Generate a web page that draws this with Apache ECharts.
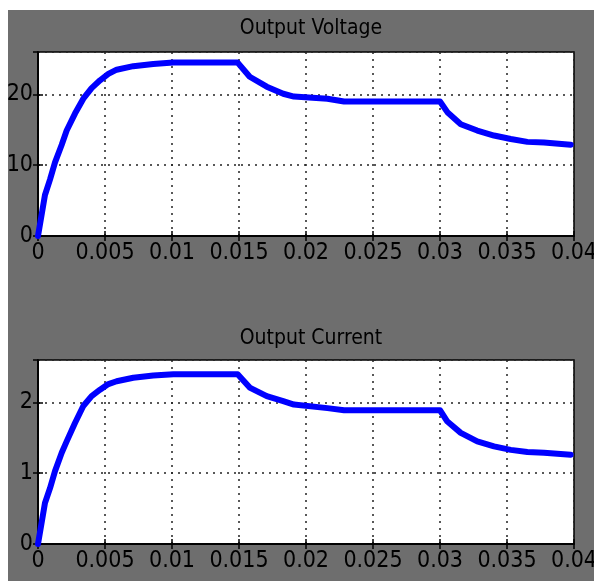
<!DOCTYPE html>
<html>
<head>
<meta charset="utf-8">
<script src="https://cdn.jsdelivr.net/npm/echarts@6/dist/echarts.min.js"></script>
<style>
html,body{margin:0;padding:0;background:#ffffff;}
#bg{position:absolute;left:8px;top:10px;width:586px;height:571px;background:#6e6e6e;}
#chart{position:absolute;left:0;top:0;width:594px;height:581px;}
</style>
</head>
<body>
<div id="bg"></div>
<div id="chart"></div>
<script>
// Time samples (s)
const timeV = [0, 0.00052, 0.0009, 0.00127, 0.00177, 0.00214, 0.00276, 0.00338, 0.0040, 0.00463, 0.00525, 0.00587, 0.00711, 0.0086, 0.0101, 0.0149, 0.0150, 0.0158, 0.01707, 0.0183, 0.0191, 0.0216, 0.02284, 0.0298, 0.0300, 0.03055, 0.03155, 0.03278, 0.03403, 0.03528, 0.03652, 0.03776, 0.03975];
// Output voltage values
const voltage = [0, 5.8, 8.0, 10.4, 12.9, 14.9, 17.3, 19.4, 20.9, 22.0, 22.9, 23.5, 24.0, 24.3, 24.5, 24.5, 24.5, 22.5, 21.1, 20.1, 19.7, 19.4, 19.0, 19.0, 19.0, 17.5, 15.8, 14.9, 14.2, 13.7, 13.3, 13.2, 12.9];
// Output current values
const timeI = timeV;
const current = [0, 0.58, 0.79, 1.03, 1.29, 1.45, 1.71, 1.95, 2.09, 2.18, 2.26, 2.30, 2.35, 2.38, 2.40, 2.40, 2.40, 2.21, 2.09, 2.02, 1.97, 1.92, 1.89, 1.89, 1.89, 1.73, 1.57, 1.45, 1.38, 1.33, 1.30, 1.29, 1.26];
// Titles and axis settings
const titles = ["Output Voltage", "Output Current"];
const xTicks = [0, 0.005, 0.01, 0.015, 0.02, 0.025, 0.03, 0.035, 0.04];
const vTicks = [0, 10, 20];
const iTicks = [0, 1, 2];

const FONT = "'Liberation Sans Narrow','DejaVu Sans Condensed','Arial Narrow',sans-serif";
const chart = echarts.init(document.getElementById('chart'));

function pairs(t, v){ return t.map((x,i)=>[x, v[i]]); }
function fmtX(v){ return String(+(+v).toFixed(3)); }

const gridTop = [52, 360];
const plotH = 184;
const yMax = [26, 2.6];
const yInt = [10, 1];

const grids = gridTop.map(t => ({left:38, right:20, top:t, height:plotH, show:true, backgroundColor:'#ffffff', borderColor:'#000', borderWidth:1.5, containLabel:false, outerBoundsMode:'none'}));

const xAxes = [];
const yAxes = [];
[0,1].forEach(g => {
  xAxes.push({
    type:'value', gridIndex:g, min:0, max:0.04, interval:0.005, position:'bottom',
    axisLine:{show:true, lineStyle:{color:'#000', width:1.5}},
    axisTick:{show:true, inside:true, length:5, lineStyle:{color:'#000', width:1.5}},
    axisLabel:{color:'#000', fontFamily:FONT, fontSize:23, margin:6, formatter:fmtX, hideOverlap:false},
    splitLine:{show:true, lineStyle:{color:'#222', type:[2,5], width:1.5}}
  });
  xAxes.push({
    type:'value', gridIndex:g, min:0, max:0.04, interval:0.005, position:'top',
    axisLine:{show:true, lineStyle:{color:'#000', width:1.5}},
    axisTick:{show:true, inside:true, length:5, lineStyle:{color:'#000', width:1.5}},
    axisLabel:{show:false}, splitLine:{show:false}
  });
  yAxes.push({
    type:'value', gridIndex:g, min:0, max:yMax[g], interval:yInt[g], position:'left',
    axisLine:{show:true, lineStyle:{color:'#000', width:1.5}},
    axisTick:{show:true, inside:true, length:5, lineStyle:{color:'#000', width:1.5}},
    axisLabel:{color:'#000', fontFamily:FONT, fontSize:23, margin:5, showMaxLabel:false,
      formatter: v => ((g===0?vTicks:iTicks).indexOf(+v) >= 0 ? String(v) : '')},
    splitLine:{show:true, lineStyle:{color:'#222', type:[2,5], width:1.5}}
  });
  yAxes.push({
    type:'value', gridIndex:g, min:0, max:yMax[g], interval:yInt[g], position:'right',
    axisLine:{show:true, lineStyle:{color:'#000', width:1.5}},
    axisTick:{show:true, inside:true, length:5, lineStyle:{color:'#000', width:1.5}},
    axisLabel:{show:false}, splitLine:{show:false}
  });
});

chart.setOption({
  animation:false,
  backgroundColor:'transparent',
  title: titles.map((t,i)=>({
    text:t, left:306, textAlign:'center', top:[13,323][i],
    textStyle:{fontFamily:FONT, fontSize:21, fontWeight:'normal', color:'#000'}
  })),
  grid: grids,
  xAxis: xAxes,
  yAxis: yAxes,
  series: [
    {type:'line', xAxisIndex:0, yAxisIndex:0, data:pairs(timeV, voltage), showSymbol:false, symbol:'none',
     lineStyle:{color:'#0000ff', width:6, join:'round', cap:'round'}, z:5},
    {type:'line', xAxisIndex:2, yAxisIndex:2, data:pairs(timeI, current), showSymbol:false, symbol:'none',
     lineStyle:{color:'#0000ff', width:6, join:'round', cap:'round'}, z:5}
  ]
});
</script>
</body>
</html>
